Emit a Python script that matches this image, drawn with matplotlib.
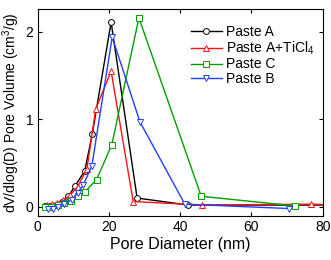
import matplotlib
matplotlib.use('Agg')
from matplotlib import pyplot as plt

# Paste A (black circles)
a_x = [2.0, 3.5, 5.0, 6.7, 8.6, 10.5, 13.2, 15.3, 20.6, 27.9, 42.3, 85.0]
a_y = [0.01, 0.01, 0.02, 0.05, 0.12, 0.24, 0.41, 0.83, 2.11, 0.10, 0.02, 0.02]

# Paste A + TiCl4 (red up triangles)
t_x = [2.5, 4.0, 5.5, 7.2, 9.0, 11.2, 13.8, 16.3, 20.6, 26.8, 46.0, 76.6, 85.0]
t_y = [0.02, 0.03, 0.04, 0.08, 0.13, 0.23, 0.43, 1.12, 1.55, 0.06, 0.02, 0.03, 0.02]

# Paste C (green squares)
c_x = [2.1, 3.8, 5.7, 7.4, 9.4, 11.3, 13.2, 16.5, 20.8, 28.4, 45.9, 72.2]
c_y = [0.0, 0.0, 0.02, 0.04, 0.07, 0.12, 0.17, 0.31, 0.71, 2.16, 0.12, 0.01]

# Paste B (blue down triangles)
b_x = [3.0, 4.2, 5.8, 7.5, 9.5, 11.2, 12.8, 15.2, 20.9, 28.7, 41.3, 70.5]
b_y = [-0.02, -0.02, 0.0, 0.03, 0.08, 0.16, 0.25, 0.47, 1.94, 0.97, 0.03, -0.02]

series = [
    ('Paste A', a_x, a_y, 'black', 'o'),
    ('Paste A+TiCl$_4$', t_x, t_y, '#ff1010', '^'),
    ('Paste C', c_x, c_y, '#00a000', 's'),
    ('Paste B', b_x, b_y, '#2040ff', 'v'),
]

plt.rcParams['font.family'] = ['Liberation Sans', 'DejaVu Sans']
plt.rcParams['mathtext.fontset'] = 'custom'
plt.rcParams['mathtext.rm'] = 'Liberation Sans'

fig = plt.figure(figsize=(3.31, 2.6), dpi=100)
ax = fig.add_axes([0.114, 0.169, 0.861, 0.796])

for label, x, y, color, m in series:
    ax.plot(x, y, color=color, marker=m, markersize=4.2, markerfacecolor='white',
            markeredgecolor=color, markeredgewidth=0.7, linewidth=1.0, label=label)

ax.set_xlim(0, 80)
ax.set_ylim(-0.106, 2.26)
ax.set_xticks([0, 20, 40, 60, 80])
ax.set_yticks([0, 1, 2])
ax.tick_params(direction='in', top=True, right=True, labelsize=10, length=3, pad=3)
for s in ax.spines.values():
    s.set_linewidth(0.8)

ax.set_xlabel('Pore Diameter (nm)', fontsize=11.5, labelpad=2)
ax.set_ylabel('dV/dlog(D) Pore Volume (cm$\\mathregular{^3}$/g)', fontsize=10, labelpad=3)

ax.legend(loc='upper right', bbox_to_anchor=(1.0, 0.965), frameon=False, fontsize=10,
          handlelength=2.2, handletextpad=0.3, labelspacing=0.05, borderaxespad=0.2)

fig.savefig('out.png', dpi=100)
